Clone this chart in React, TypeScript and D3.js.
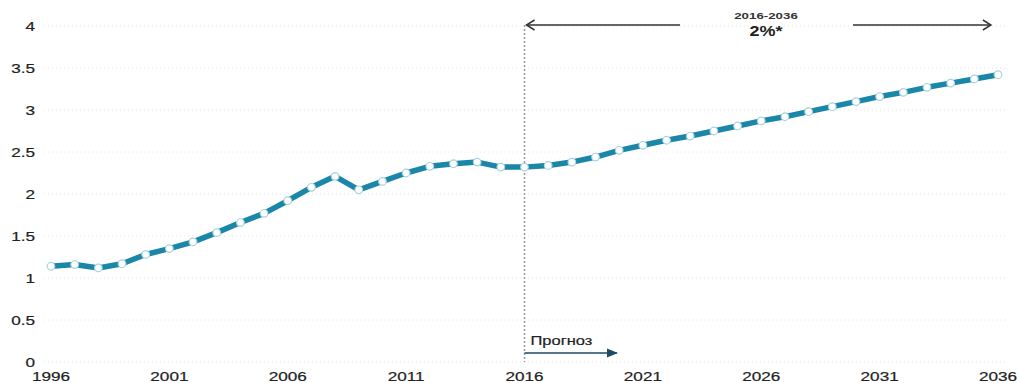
import React from "react";
import * as d3 from "d3";

const years: number[] = [
  1996, 1997, 1998, 1999, 2000, 2001, 2002, 2003, 2004, 2005, 2006, 2007, 2008, 2009,
  2010, 2011, 2012, 2013, 2014, 2015, 2016, 2017, 2018, 2019, 2020, 2021, 2022, 2023,
  2024, 2025, 2026, 2027, 2028, 2029, 2030, 2031, 2032, 2033, 2034, 2035, 2036,
];
const values: number[] = [
  1.14, 1.16, 1.12, 1.17, 1.28, 1.35, 1.43, 1.54, 1.66, 1.77, 1.92, 2.08, 2.21, 2.05,
  2.15, 2.25, 2.33, 2.36, 2.38, 2.32, 2.32, 2.34, 2.38, 2.44, 2.52, 2.58, 2.64, 2.69,
  2.75, 2.81, 2.87, 2.92, 2.98, 3.04, 3.10, 3.16, 3.21, 3.27, 3.32, 3.37, 3.42,
];
const yTicks: number[] = [0, 0.5, 1, 1.5, 2, 2.5, 3, 3.5, 4];
const xTicks: number[] = [1996, 2001, 2006, 2011, 2016, 2021, 2026, 2031, 2036];
const forecastStart = 2016;
const forecastLabel = "Прогноз";
const periodLabel = "2016-2036";
const rateLabel = "2%*";

const W = 1019;
const H = 383;
const SX = 1.32;
const FONT = "'Liberation Sans', Arial, sans-serif";

export default function App() {
  const x = d3.scaleLinear().domain([1996, 2036]).range([51, 998]);
  const y = d3.scaleLinear().domain([0, 4]).range([362, 26]);
  const line = d3
    .line<number>()
    .x((_, i) => x(years[i]))
    .y((d) => y(d));
  const xf = x(forecastStart);
  const topY = y(4) - 1;
  const midX = 766;

  return (
    <svg
      width={W}
      height={H}
      style={{ position: "absolute", left: 0, top: 0, background: "#fff" }}
      fontFamily={FONT}
    >
      <defs>
        <marker id="fc" viewBox="0 0 10 10" refX="9" refY="5" markerWidth="7" markerHeight="7" orient="auto">
          <path d="M0,1 L10,5 L0,9 Z" fill="#1d4a66" />
        </marker>
      </defs>
      {yTicks.map((t) => (
        <line
          key={"g" + t}
          x1={44}
          x2={1005}
          y1={y(t)}
          y2={y(t)}
          stroke="#e6e6e6"
          strokeWidth={1}
          strokeDasharray="1,3"
        />
      ))}
      {yTicks.map((t) => (
        <text
          key={"y" + t}
          transform={`translate(35,${y(t) + 4.5}) scale(${SX},1)`}
          textAnchor="end"
          fontSize={13}
          fill="#222"
          stroke="#222"
          strokeWidth={0.2}
        >
          {String(t)}
        </text>
      ))}
      {xTicks.map((t) => (
        <text
          key={"x" + t}
          transform={`translate(${x(t)},${H - 2}) scale(${SX},1)`}
          textAnchor="middle"
          fontSize={13}
          fill="#222"
          stroke="#222"
          strokeWidth={0.2}
        >
          {String(t)}
        </text>
      ))}
      <line x1={xf} x2={xf} y1={topY} y2={y(0)} stroke="#999" strokeWidth={1.5} strokeDasharray="2,2" />
      <line x1={xf + 2} x2={680} y1={topY} y2={topY} stroke="#333" strokeWidth={1.5} />
      <path d={`M${xf + 10},${topY - 5} L${xf + 2},${topY} L${xf + 10},${topY + 5}`} fill="none" stroke="#333" strokeWidth={1.5} />
      <line x1={853} x2={x(2035.7)} y1={topY} y2={topY} stroke="#333" strokeWidth={1.5} />
      <path d={`M${x(2035.7) - 8},${topY - 5} L${x(2035.7)},${topY} L${x(2035.7) - 8},${topY + 5}`} fill="none" stroke="#333" strokeWidth={1.5} />
      <text transform={`translate(${midX},${topY - 6}) scale(1.4,1)`} textAnchor="middle" fontSize={9.5} fontWeight="bold" fill="#333">
        {periodLabel}
      </text>
      <text transform={`translate(${midX},${topY + 11}) scale(1.2,1)`} textAnchor="middle" fontSize={15} fontWeight="bold" fill="#222">
        {rateLabel}
      </text>
      <text transform={`translate(${xf + 6},${y(0) - 17}) scale(${SX},1)`} fontSize={12.5} fill="#222" stroke="#222" strokeWidth={0.2}>
        {forecastLabel}
      </text>
      <line x1={xf} x2={x(2019.9)} y1={y(0) - 9} y2={y(0) - 9} stroke="#1d4a66" strokeWidth={1.6} markerEnd="url(#fc)" />
      <path d={line(values) || ""} fill="none" stroke="#1a87a8" strokeWidth={5.5} strokeLinejoin="round" />
      {values.map((v, i) => (
        <circle key={"p" + i} cx={x(years[i])} cy={y(v)} r={3.8} fill="#fff" stroke="#a9d3e0" strokeWidth={1.2} />
      ))}
    </svg>
  );
}
